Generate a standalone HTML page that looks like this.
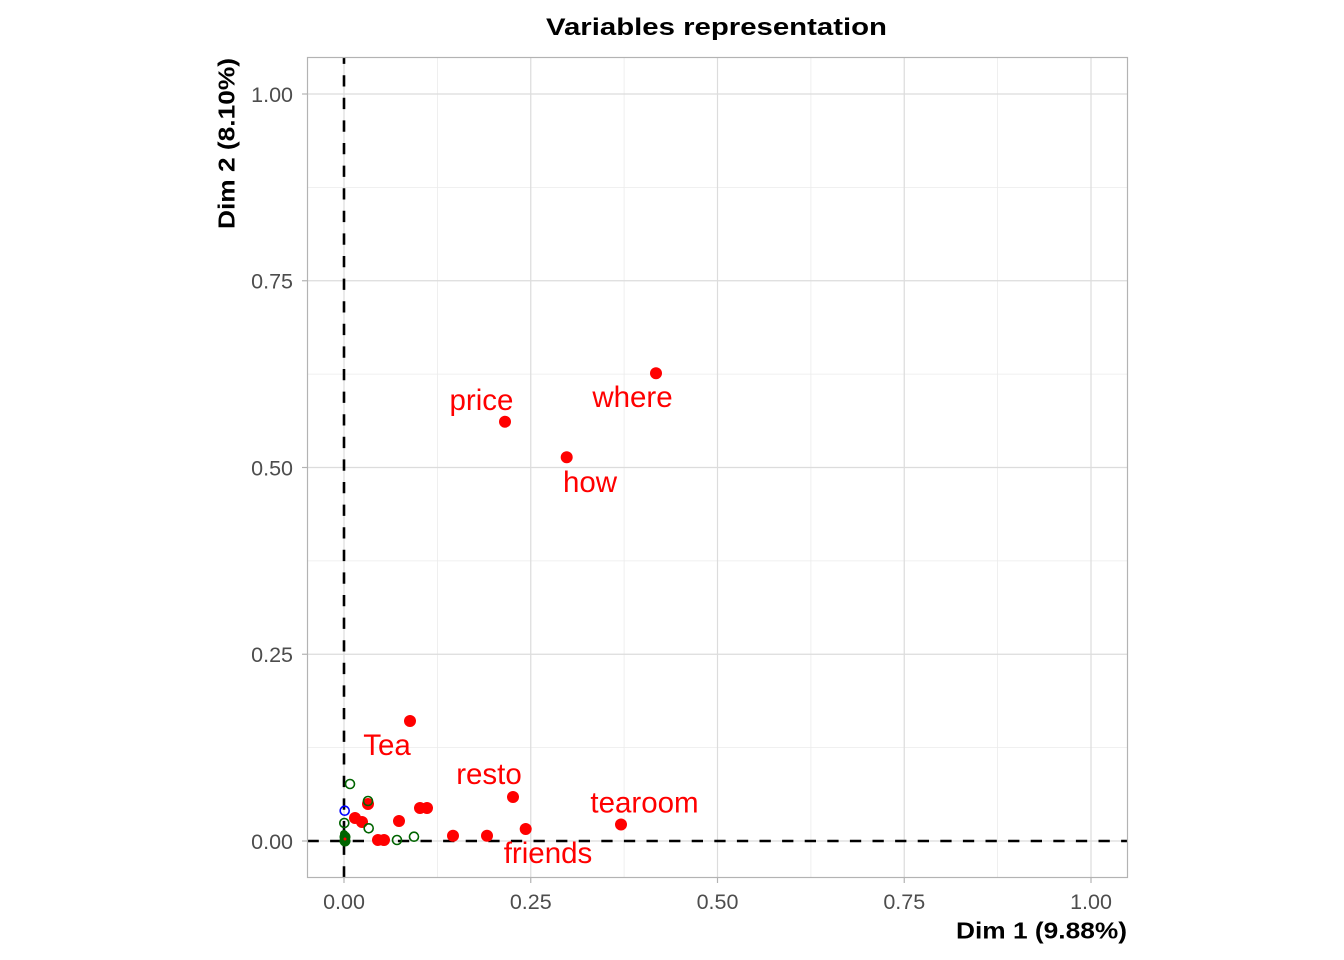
<!DOCTYPE html>
<html><head><meta charset="utf-8"><style>
html,body{margin:0;padding:0;background:#fff;}
svg{display:block;font-family:"Liberation Sans",Arial,sans-serif;}
</style></head><body>
<svg width="1344" height="960" viewBox="0 0 1344 960" xmlns="http://www.w3.org/2000/svg">
<rect width="1344" height="960" fill="#fff"/>
<!-- minor grid -->
<g stroke="#ebebeb" stroke-width="0.8">
<line x1="437.4" y1="57.5" x2="437.4" y2="877.5"/>
<line x1="624.1" y1="57.5" x2="624.1" y2="877.5"/>
<line x1="810.9" y1="57.5" x2="810.9" y2="877.5"/>
<line x1="997.6" y1="57.5" x2="997.6" y2="877.5"/>
<line x1="307.5" y1="747.6" x2="1127.5" y2="747.6"/>
<line x1="307.5" y1="560.9" x2="1127.5" y2="560.9"/>
<line x1="307.5" y1="374.1" x2="1127.5" y2="374.1"/>
<line x1="307.5" y1="187.4" x2="1127.5" y2="187.4"/>
</g>
<!-- major grid -->
<g stroke="#dcdcdc" stroke-width="1.2">
<line x1="344" y1="57.5" x2="344" y2="877.5"/>
<line x1="530.75" y1="57.5" x2="530.75" y2="877.5"/>
<line x1="717.5" y1="57.5" x2="717.5" y2="877.5"/>
<line x1="904.25" y1="57.5" x2="904.25" y2="877.5"/>
<line x1="1091" y1="57.5" x2="1091" y2="877.5"/>
<line x1="307.5" y1="841" x2="1127.5" y2="841"/>
<line x1="307.5" y1="654.25" x2="1127.5" y2="654.25"/>
<line x1="307.5" y1="467.5" x2="1127.5" y2="467.5"/>
<line x1="307.5" y1="280.75" x2="1127.5" y2="280.75"/>
<line x1="307.5" y1="94" x2="1127.5" y2="94"/>
</g>
<!-- dashed reference lines -->
<line x1="307.5" y1="841" x2="1127.5" y2="841" stroke="#000" stroke-width="2.6" stroke-dasharray="11.3 11.3"/>
<line x1="344" y1="877.5" x2="344" y2="57.5" stroke="#000" stroke-width="2.6" stroke-dasharray="11.3 11.3"/>
<!-- points -->
<g fill="#ff0000">
<circle cx="410" cy="721" r="6"/>
<circle cx="513" cy="797" r="6"/>
<circle cx="621" cy="824.5" r="6"/>
<circle cx="505" cy="421.7" r="6"/>
<circle cx="566.7" cy="457.3" r="6"/>
<circle cx="656" cy="373.3" r="6"/>
<circle cx="525.7" cy="829" r="6"/>
<circle cx="487" cy="835.7" r="6"/>
<circle cx="453" cy="835.7" r="6"/>
<circle cx="420" cy="808" r="6"/>
<circle cx="427" cy="808" r="6"/>
<circle cx="399" cy="821" r="6"/>
<circle cx="368" cy="804" r="6"/>
<circle cx="355" cy="818" r="6"/>
<circle cx="362" cy="822" r="6"/>
<circle cx="378" cy="840" r="6"/>
<circle cx="384" cy="840" r="6"/>
<circle cx="345" cy="839" r="5"/>
</g>
<g fill="#006400">
<circle cx="345" cy="841" r="5.5"/>
<circle cx="345" cy="837" r="5.5"/>
<circle cx="344" cy="834" r="4"/>
</g>
<circle cx="345" cy="839" r="1.5" fill="#ff0000"/>
<g fill="none" stroke="#006400" stroke-width="1.6">
<circle cx="350" cy="784" r="4.5"/>
<circle cx="368" cy="801" r="4.5"/>
<circle cx="344.3" cy="823" r="4.5"/>
<circle cx="368.7" cy="828.3" r="4.5"/>
<circle cx="397" cy="840" r="4.5"/>
<circle cx="414" cy="836.7" r="4.5"/>
</g>
<circle cx="344.7" cy="810.7" r="4.5" fill="none" stroke="#0000ff" stroke-width="1.6"/>
<!-- labels -->
<g fill="#ff0000" font-size="29.5" text-anchor="middle">
<text x="387" y="755">Tea</text>
<text x="489" y="784">resto</text>
<text x="644.5" y="812.5">tearoom</text>
<text x="548" y="863">friends</text>
<text x="481.5" y="410">price</text>
<text x="632.5" y="407">where</text>
<text x="590" y="492">how</text>
</g>
<!-- panel border -->
<rect x="307.5" y="57.5" width="820" height="820" fill="none" stroke="#b3b3b3" stroke-width="1.2"/>
<!-- ticks -->
<g stroke="#b3b3b3" stroke-width="1.2">
<line x1="344" y1="877.5" x2="344" y2="883"/>
<line x1="530.75" y1="877.5" x2="530.75" y2="883"/>
<line x1="717.5" y1="877.5" x2="717.5" y2="883"/>
<line x1="904.25" y1="877.5" x2="904.25" y2="883"/>
<line x1="1091" y1="877.5" x2="1091" y2="883"/>
<line x1="302" y1="841" x2="307.5" y2="841"/>
<line x1="302" y1="654.25" x2="307.5" y2="654.25"/>
<line x1="302" y1="467.5" x2="307.5" y2="467.5"/>
<line x1="302" y1="280.75" x2="307.5" y2="280.75"/>
<line x1="302" y1="94" x2="307.5" y2="94"/>
</g>
<g fill="#4d4d4d" font-size="21.5" text-anchor="middle">
<text x="344" y="909">0.00</text>
<text x="530.75" y="909">0.25</text>
<text x="717.5" y="909">0.50</text>
<text x="904.25" y="909">0.75</text>
<text x="1091" y="909">1.00</text>
</g>
<g fill="#4d4d4d" font-size="21.5" text-anchor="end">
<text x="293" y="849">0.00</text>
<text x="293" y="662">0.25</text>
<text x="293" y="475.5">0.50</text>
<text x="293" y="288.5">0.75</text>
<text x="293" y="102">1.00</text>
</g>
<!-- titles -->
<text x="716.5" y="35" font-size="24" font-weight="bold" text-anchor="middle" fill="#000" textLength="341" lengthAdjust="spacingAndGlyphs">Variables representation</text>
<text x="1127" y="938.5" font-size="23.5" font-weight="bold" text-anchor="end" fill="#000" textLength="171" lengthAdjust="spacingAndGlyphs">Dim 1 (9.88%)</text>
<text transform="translate(234.5,58) rotate(-90)" font-size="23.5" font-weight="bold" text-anchor="end" fill="#000" textLength="171" lengthAdjust="spacingAndGlyphs">Dim 2 (8.10%)</text>
</svg>
</body></html>
